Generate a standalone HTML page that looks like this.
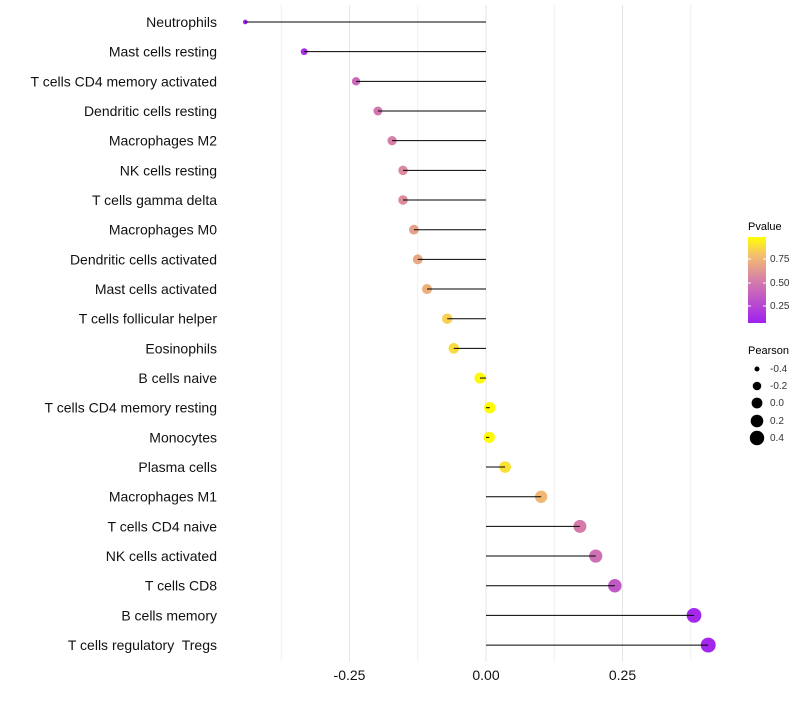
<!DOCTYPE html>
<html><head><meta charset="utf-8"><style>
body{margin:0;background:#fff;font-family:"Liberation Sans",sans-serif}
text{white-space:pre}
</style></head><body>
<svg id="c" width="800" height="700" xmlns="http://www.w3.org/2000/svg">
<defs><linearGradient id="pg" x1="0" y1="1" x2="0" y2="0">
<stop offset="0" stop-color="#A020F0"/><stop offset="0.5" stop-color="#D77FA8"/><stop offset="0.8" stop-color="#F5C26B"/><stop offset="1" stop-color="#FFFF00"/></linearGradient></defs>
<g id="grid"></g><g id="marks"></g><g id="stems"></g><g id="labels"></g>
<g font-size="10">
<text x="748" y="230" font-size="11">Pvalue</text>
<rect x="748" y="237" width="18" height="86" fill="url(#pg)"/>
<line x1="748" x2="751" y1="259" y2="259" stroke="#fff"/><line x1="763" x2="766" y1="259" y2="259" stroke="#fff"/>
<line x1="748" x2="751" y1="283" y2="283" stroke="#fff"/><line x1="763" x2="766" y1="283" y2="283" stroke="#fff"/>
<line x1="748" x2="751" y1="306" y2="306" stroke="#fff"/><line x1="763" x2="766" y1="306" y2="306" stroke="#fff"/>
<text x="770" y="262" fill="#333">0.75</text><text x="770" y="286" fill="#333">0.50</text><text x="770" y="309" fill="#333">0.25</text>
<text x="748" y="354" font-size="11">Pearson</text>
<circle cx="757" cy="369" r="2.5"/><text x="770" y="372" fill="#333">-0.4</text>
<circle cx="757" cy="386" r="4.3"/><text x="770" y="389" fill="#333">-0.2</text>
<circle cx="757" cy="403" r="5.4"/><text x="770" y="406" fill="#333">0.0</text>
<circle cx="757" cy="421" r="6.3"/><text x="770" y="424" fill="#333">0.2</text>
<circle cx="757" cy="438" r="7.2"/><text x="770" y="441" fill="#333">0.4</text>
</g>
</svg>
<script>
const cells=["Neutrophils","Mast cells resting","T cells CD4 memory activated","Dendritic cells resting","Macrophages M2","NK cells resting","T cells gamma delta","Macrophages M0","Dendritic cells activated","Mast cells activated","T cells follicular helper","Eosinophils","B cells naive","T cells CD4 memory resting","Monocytes","Plasma cells","Macrophages M1","T cells CD4 naive","NK cells activated","T cells CD8","B cells memory","T cells regulatory  Tregs"];
const pearson=[-0.441,-0.333,-0.238,-0.198,-0.172,-0.152,-0.152,-0.132,-0.125,-0.108,-0.071,-0.059,-0.011,0.007,0.006,0.035,0.101,0.172,0.201,0.236,0.381,0.407];
const pvalue=[0.0,0.08,0.38,0.45,0.5,0.55,0.55,0.65,0.68,0.72,0.85,0.88,0.98,0.99,0.99,0.9,0.75,0.48,0.42,0.3,0.04,0.03];
const ticks=[-0.25,0,0.25];
const tickLabels=["-0.25","0.00","0.25"];
const NS="http://www.w3.org/2000/svg";
const x=v=>486+v*546, y=i=>22+i*29.67;
const r=v=>{const a=2.2*2.2+(7.5*7.5-2.2*2.2)*(v+0.45)/0.86;return Math.sqrt(Math.max(a,2));};
const stops=[[0,[160,32,240]],[0.5,[215,127,168]],[0.8,[245,194,107]],[1,[255,255,0]]];
function col(p){for(let k=1;k<stops.length;k++){if(p<=stops[k][0]){const[a,c1]=stops[k-1],[b,c2]=stops[k];const t=(p-a)/(b-a);return "rgb("+c1.map((c,j)=>Math.round(c+(c2[j]-c)*t)).join(",")+")";}}return "rgb(255,255,0)";}
function mk(t,at,p){const e=document.createElementNS(NS,t);for(const k in at)e.setAttribute(k,at[k]);p.appendChild(e);return e;}
const g=document.getElementById('grid'),m=document.getElementById('marks'),st=document.getElementById('stems'),lb=document.getElementById('labels');
for(let k=-3;k<=3;k++){const v=k*0.125;const l=mk('line',{x1:x(v),x2:x(v),y1:5,y2:662,stroke:k%2===0?'#e6e6e6':'#f1f1f1','stroke-width':1},g);

}
ticks.forEach((t,i)=>{const e=mk('text',{x:x(t),y:680,'text-anchor':'middle','font-size':14,fill:'#111'},lb);e.textContent=tickLabels[i];

});
cells.forEach((c,i)=>{
const d=mk('circle',{cx:x(pearson[i]),cy:y(i),r:r(pearson[i]),fill:col(pvalue[i])},m);


const s=mk('line',{x1:x(0),x2:x(pearson[i]),y1:y(i),y2:y(i),stroke:'#000','stroke-width':1},st);


const t=mk('text',{x:217,y:y(i)+5,'text-anchor':'end','font-size':14,fill:'#111'},lb);t.textContent=c;


});
</script>
</body></html>
